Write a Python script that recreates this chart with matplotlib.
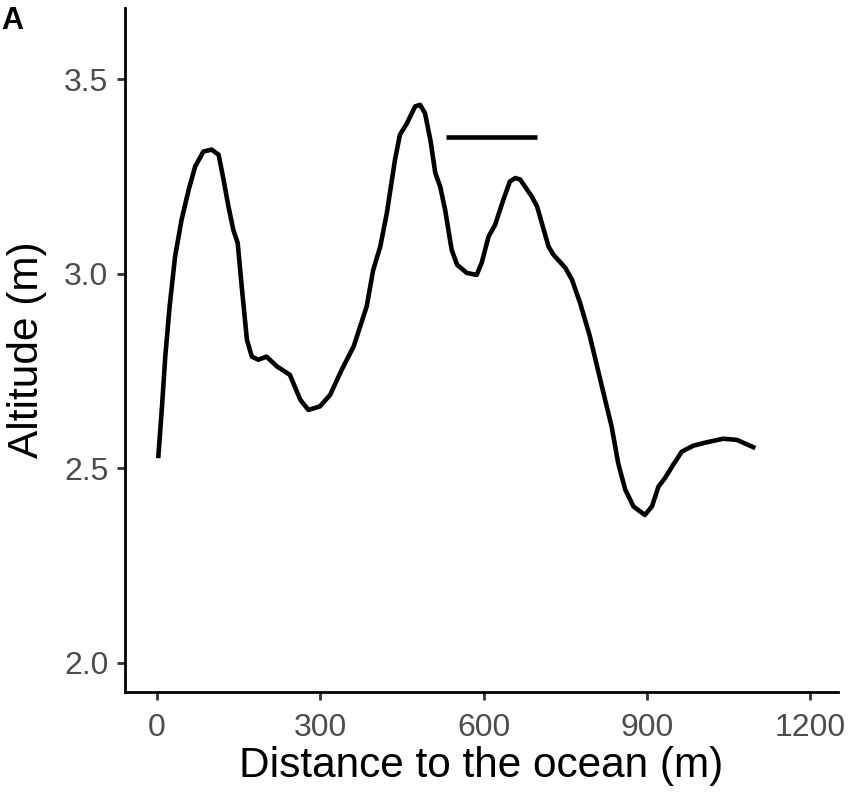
import numpy as np
import matplotlib.pyplot as plt

# altitude profile
dist = [2, 9, 15, 23, 33, 45, 58, 70, 85, 100, 113, 122, 131, 140, 148, 156,
        165, 174, 186, 201, 220, 244, 263, 278, 299, 318, 339, 361, 385, 397,
        410, 422, 437, 446, 459, 474, 483, 492, 502, 511, 520, 529, 541, 551,
        569, 587, 596, 609, 621, 636, 648, 658, 667, 688, 698, 719, 728, 750,
        762, 777, 795, 823, 835, 847, 860, 875, 896, 909, 921, 933, 948, 964,
        985, 1007, 1040, 1065, 1099]
alt = [2.526, 2.659, 2.787, 2.916, 3.044, 3.139, 3.216, 3.276, 3.314, 3.319,
       3.306, 3.242, 3.173, 3.113, 3.079, 2.959, 2.830, 2.787, 2.779, 2.787,
       2.762, 2.740, 2.676, 2.650, 2.659, 2.689, 2.753, 2.813, 2.916, 3.010,
       3.070, 3.156, 3.293, 3.357, 3.387, 3.430, 3.434, 3.413, 3.344, 3.259,
       3.224, 3.165, 3.062, 3.023, 3.002, 2.997, 3.027, 3.096, 3.126, 3.190,
       3.237, 3.246, 3.242, 3.199, 3.173, 3.070, 3.049, 3.015, 2.985, 2.925,
       2.839, 2.676, 2.607, 2.513, 2.445, 2.402, 2.380, 2.402, 2.453, 2.475,
       2.509, 2.543, 2.558, 2.566, 2.576, 2.573, 2.552]

seg_x = [530, 698]
seg_y = [3.352, 3.352]

xticks = [0, 300, 600, 900, 1200]
yticks = [2.0, 2.5, 3.0, 3.5]

plt.rcParams['font.family'] = ['Liberation Sans', 'DejaVu Sans']

fig = plt.figure(figsize=(8.52, 7.97), dpi=100)
ax = fig.add_axes([0.1467, 0.1317, 0.837, 0.8583])

ax.plot(dist, alt, color='black', lw=3.3, solid_joinstyle='round',
        solid_capstyle='butt')
ax.plot(seg_x, seg_y, color='black', lw=3.3, solid_capstyle='butt')

ax.set_xlim(-59, 1251)
ax.set_ylim(1.925, 3.683)
ax.set_xticks(xticks)
ax.set_xticklabels([str(t) for t in xticks])
ax.set_yticks(yticks)
ax.set_yticklabels(['%.1f' % t for t in yticks])

for s in ['top', 'right']:
    ax.spines[s].set_visible(False)
for s in ['left', 'bottom']:
    ax.spines[s].set_linewidth(2.0)
ax.tick_params(length=6, width=2.0, color='#333333', labelcolor='#4D4D4D',
               labelsize=23)
ax.tick_params(axis='y', pad=6)
ax.tick_params(axis='x', pad=9)

ax.set_xlabel('Distance to the ocean (m)', fontsize=30.5, labelpad=2)
ax.set_ylabel('Altitude (m)', fontsize=30.5, labelpad=12)

fig.text(0.001, 0.993, 'A', fontsize=22, fontweight='bold', va='top', ha='left')

fig.savefig('out.png', dpi=100)
